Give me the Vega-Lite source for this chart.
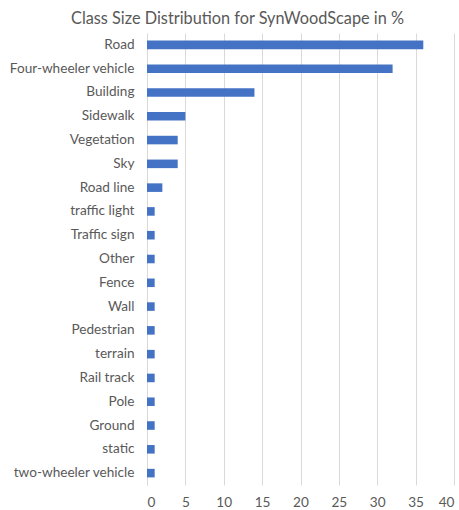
{
  "$schema": "https://vega.github.io/schema/vega-lite/v6.json",
  "autosize": "none",
  "width": 307,
  "height": 452,
  "padding": {"left": 147, "top": 33, "right": 5, "bottom": 25},
  "background": "white",
  "title": {
    "text": "Class Size Distribution for SynWoodScape in %",
    "font": "Lato",
    "fontSize": 16.3,
    "fontWeight": "normal",
    "color": "#595959",
    "anchor": "middle",
    "dx": -63,
    "offset": 6
  },
  "data": {
    "values": [
      {"cls": "Road", "pct": 36},
      {"cls": "Four-wheeler vehicle", "pct": 32},
      {"cls": "Building", "pct": 14},
      {"cls": "Sidewalk", "pct": 5},
      {"cls": "Vegetation", "pct": 4},
      {"cls": "Sky", "pct": 4},
      {"cls": "Road line", "pct": 2},
      {"cls": "traffic light", "pct": 1},
      {"cls": "Traffic sign", "pct": 1},
      {"cls": "Other", "pct": 1},
      {"cls": "Fence", "pct": 1},
      {"cls": "Wall", "pct": 1},
      {"cls": "Pedestrian", "pct": 1},
      {"cls": "terrain", "pct": 1},
      {"cls": "Rail track", "pct": 1},
      {"cls": "Pole", "pct": 1},
      {"cls": "Ground", "pct": 1},
      {"cls": "static", "pct": 1},
      {"cls": "two-wheeler vehicle", "pct": 1}
    ]
  },
  "mark": {"type": "bar", "color": "#4472c4"},
  "encoding": {
    "y": {
      "field": "cls",
      "type": "nominal",
      "sort": null,
      "scale": {"paddingInner": 0.64, "paddingOuter": 0.32},
      "axis": {
        "title": null,
        "ticks": false,
        "domain": true,
        "domainColor": "#d9d9d9",
        "labelFont": "Lato",
        "labelFontSize": 13.6,
        "labelColor": "#595959",
        "labelPadding": 13
      }
    },
    "x": {
      "field": "pct",
      "type": "quantitative",
      "scale": {"domain": [0, 40], "nice": false},
      "axis": {
        "title": null,
        "values": [0, 5, 10, 15, 20, 25, 30, 35, 40],
        "ticks": false,
        "domain": false,
        "grid": true,
        "gridColor": "#d9d9d9",
        "labelFont": "Lato",
        "labelFontSize": 13.6,
        "labelColor": "#595959",
        "labelPadding": 10
      }
    }
  },
  "config": {"view": {"stroke": null}}
}
